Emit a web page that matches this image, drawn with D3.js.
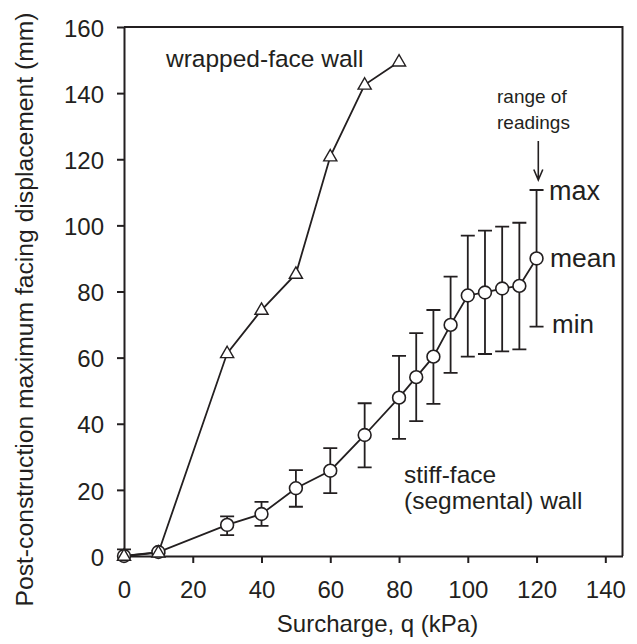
<!DOCTYPE html>
<html>
<head>
<meta charset="utf-8">
<script src="https://cdn.jsdelivr.net/npm/d3@7/dist/d3.min.js"></script>
<style>
  html, body { margin: 0; padding: 0; background: #fff; }
  svg { display: block; font-family: "Liberation Sans", Arial, Helvetica, sans-serif; }
</style>
</head>
<body>
<svg id="chart" width="637" height="644"></svg>
<script>
// ---- data ----
const wrappedQ = [0, 10, 30, 40, 50, 60, 70, 80];
const wrappedDisp = [0, 1, 61.3, 74.4, 85.3, 120.8, 142.5, 149.5];

const stiffQ = [0, 10, 30, 40, 50, 60, 70, 80, 85, 90, 95, 100, 105, 110, 115, 120];
const stiffMean = [0, 1.2, 9.4, 12.7, 20.5, 25.8, 36.6, 47.9, 54.1, 60.3, 69.9, 78.8, 79.7, 80.9, 81.7, 90.0];
const stiffMax = [2, 1.6, 12.0, 16.4, 26.0, 32.6, 46.2, 60.5, 67.4, 74.4, 84.5, 96.9, 98.4, 99.6, 100.8, 110.7];
const stiffMin = [0, 0.8, 6.3, 9.1, 14.9, 19.0, 26.8, 35.4, 40.8, 46.0, 55.4, 60.3, 61.1, 61.9, 62.5, 69.4];

const xTicks = [0, 20, 40, 60, 80, 100, 120, 140];
const yTicks = [0, 20, 40, 60, 80, 100, 120, 140, 160];

const xTitle = "Surcharge, q (kPa)";
const yTitle = "Post-construction maximum facing displacement (mm)";

// ---- layout ----
const ink = "#231f20";
const L = 124, R = 622.5, T = 27, B = 556;
const svg = d3.select("#chart");

const x = d3.scaleLinear().domain([0, 145]).range([L, R]);
const y = d3.scaleLinear().domain([0, 160]).range([B, T]);

// frame (top & right)
svg.append("path")
  .attr("d", `M${L},${T}H${R}V${B}`)
  .attr("fill", "none").attr("stroke", ink).attr("stroke-width", 2);

// axes
const xAxis = svg.append("g").attr("transform", `translate(0,${B})`)
  .call(d3.axisBottom(x).tickValues(xTicks).tickSize(7).tickSizeOuter(0).tickPadding(18).tickFormat(d3.format("d")));
const yAxis = svg.append("g").attr("transform", `translate(${L},0)`)
  .call(d3.axisLeft(y).tickValues(yTicks).tickSize(7).tickSizeOuter(0).tickPadding(13).tickFormat(d3.format("d")));

[xAxis, yAxis].forEach(g => {
  g.select(".domain").attr("stroke", ink).attr("stroke-width", 2);
  g.selectAll(".tick line").attr("stroke", ink).attr("stroke-width", 2);
  g.selectAll(".tick text").attr("fill", ink).attr("font-size", 24)
    .attr("font-family", "'Liberation Sans', Arial, sans-serif");
});
yAxis.selectAll(".tick text").attr("dy", "0.38em");

// axis titles
svg.append("text").attr("x", 377.5).attr("y", 632).attr("text-anchor", "middle")
  .attr("font-size", 24).attr("fill", ink).text(xTitle);
svg.append("text").attr("transform", "translate(33,309.5) rotate(-90)").attr("text-anchor", "middle")
  .attr("font-size", 24.7).attr("fill", ink).text(yTitle);

// lines
const lw = 1.8;
const lineGen = d3.line().x(d => x(d[0])).y(d => y(d[1]));
svg.append("path").datum(stiffQ.map((q, i) => [q, stiffMean[i]]))
  .attr("d", lineGen).attr("fill", "none").attr("stroke", ink).attr("stroke-width", lw);
svg.append("path").datum(wrappedQ.map((q, i) => [q, wrappedDisp[i]]))
  .attr("d", lineGen).attr("fill", "none").attr("stroke", ink).attr("stroke-width", lw);

// error bars
const cap = 7;
const eb = svg.append("g").attr("stroke", ink).attr("stroke-width", lw).attr("fill", "none");
stiffQ.forEach((q, i) => {
  const cx = x(q), y1 = y(stiffMax[i]), y0 = y(stiffMin[i]);
  eb.append("path").attr("d", `M${cx},${y0}V${y1}M${cx - cap},${y1}H${cx + cap}M${cx - cap},${y0}H${cx + cap}`);
});

// circle markers
svg.append("g").selectAll("circle").data(stiffQ).join("circle")
  .attr("cx", (q) => x(q)).attr("cy", (q, i) => y(stiffMean[i])).attr("r", 6.4)
  .attr("fill", "#fff").attr("stroke", ink).attr("stroke-width", 1.6);

// triangle markers
const tri = d3.symbol().type(d3.symbolTriangle).size(75);
svg.append("g").selectAll("path").data(wrappedQ).join("path")
  .attr("transform", (q, i) => `translate(${x(q)},${y(wrappedDisp[i]) + 0.5})`)
  .attr("d", tri).attr("fill", "#fff").attr("stroke", ink).attr("stroke-width", 1.4);

// annotations
function label(txt, xx, yy, size) {
  svg.append("text").attr("x", xx).attr("y", yy).attr("font-size", size).attr("fill", ink).text(txt);
}
label("wrapped-face wall", 166, 66.5, 24.5);
label("range of", 497, 103, 19);
label("readings", 497, 129, 19);
label("max", 549, 200, 27);
label("mean", 550, 266.5, 26.5);
label("min", 552, 333, 26);
label("stiff-face", 404, 483, 24.5);
label("(segmental) wall", 404, 508.5, 24.5);

// arrow
svg.append("path").attr("d", "M538.3,141V180M533.8,169.5L538.3,180L542.8,169.5")
  .attr("fill", "none").attr("stroke", ink).attr("stroke-width", 1.6);
</script>
</body>
</html>
